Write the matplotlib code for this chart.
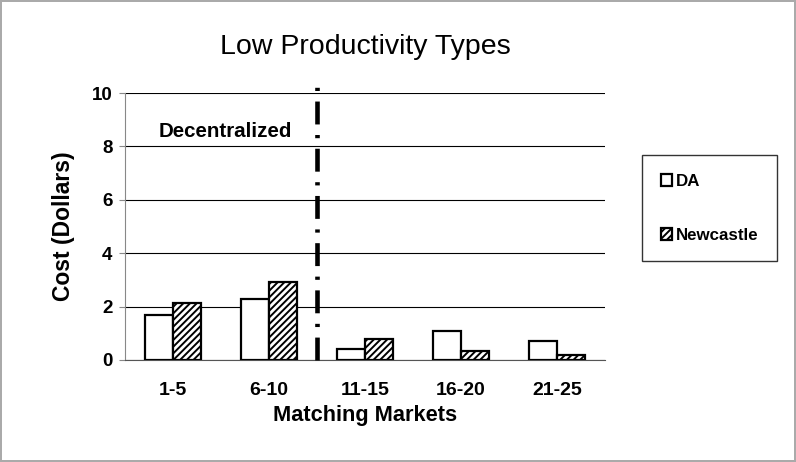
import numpy as np
import matplotlib.pyplot as plt
from matplotlib.patches import Patch

# data
markets = ['1-5', '6-10', '11-15', '16-20', '21-25']
da = [1.7, 2.3, 0.4, 1.1, 0.7]
newcastle = [2.15, 2.93, 0.8, 0.35, 0.2]

plt.rcParams['font.family'] = ['Liberation Sans', 'DejaVu Sans']
plt.rcParams['hatch.linewidth'] = 1.4

fig = plt.figure(figsize=(7.96, 4.62), dpi=100)
fig.patch.set_edgecolor('#aaaaaa')
fig.patch.set_linewidth(1.5)
ax = fig.add_axes([0.157, 0.2208, 0.603, 0.5779])

x = np.arange(len(markets))
w = 0.287
ax.bar(x - w / 2, da, w, color='white', edgecolor='black', linewidth=1.6, zorder=3)
ax.bar(x + w / 2, newcastle, w, color='white', edgecolor='black', hatch='/////', linewidth=1.6, zorder=3)

ax.set_ylim(0, 10)
ax.set_xlim(-0.5, 4.5)
ax.set_yticks([0, 2, 4, 6, 8, 10])
ax.set_xticks(x)
ax.set_xticklabels(markets)
ax.yaxis.grid(True, color='black', linewidth=0.8)
ax.set_axisbelow(True)
for s in ['top', 'right']:
    ax.spines[s].set_visible(False)
ax.spines['left'].set_color('#888888')
ax.spines['bottom'].set_color('#555555')
ax.tick_params(axis='x', length=0, pad=16, labelsize=14)
ax.tick_params(axis='y', length=4, color='#888888', pad=5, labelsize=13.5)
for lab in ax.get_xticklabels() + ax.get_yticklabels():
    lab.set_fontweight('bold')

# divider between decentralized and centralized markets
ax.plot([1.5, 1.5], [0, 10.37], color='black', linewidth=3.3, linestyle=(0, (5, 2.3, 0.7, 2.3)),
        clip_on=False, zorder=4)
ax.text(0.55, 8.55, 'Decentralized', ha='center', va='center', fontsize=14.8, fontweight='bold')

ax.set_title('Low Productivity Types', fontsize=20.5, pad=28)
ax.set_ylabel('Cost (Dollars)', fontsize=16.5, fontweight='bold', labelpad=12)
ax.set_xlabel('Matching Markets', fontsize=15.7, fontweight='bold', labelpad=4)

handles = [Patch(facecolor='white', edgecolor='black', linewidth=1.6),
           Patch(facecolor='white', edgecolor='black', hatch='/////', linewidth=1.6)]
leg = ax.legend(handles, ['DA', 'Newcastle'], loc='upper left', bbox_to_anchor=(1.077, 0.768),
                borderaxespad=0, frameon=True, fancybox=False, edgecolor='black',
                handlelength=0.7, handleheight=0.7, handletextpad=0.2, labelspacing=2.3,
                borderpad=1.1, prop={'weight': 'bold', 'size': 12.2})
leg.get_frame().set_linewidth(1.0)

fig.savefig('out.png', dpi=100)
